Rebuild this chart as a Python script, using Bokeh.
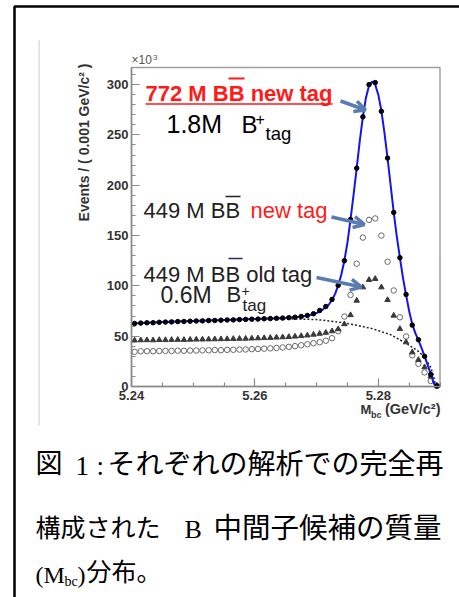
import math
from bokeh.plotting import figure
from bokeh.models import (Label, Arrow, OpenHead, BoxAnnotation, Range1d,
                          FixedTicker, NumeralTickFormatter)
from bokeh.embed import file_html
from bokeh.resources import INLINE

# ---------------- data ----------------
mbc = [5.2405, 5.2415, 5.2425, 5.2435, 5.2445, 5.2455, 5.2465, 5.2475, 5.2485, 5.2495,
       5.2505, 5.2515, 5.2525, 5.2535, 5.2545, 5.2555, 5.2565, 5.2575, 5.2585, 5.2595,
       5.2605, 5.2615, 5.2625, 5.2635, 5.2645, 5.2655, 5.2665, 5.2675, 5.2685, 5.2695,
       5.2705, 5.2715, 5.2725, 5.2735, 5.2745, 5.2755, 5.2765, 5.2775, 5.2785, 5.2795,
       5.2805, 5.2815, 5.2825, 5.2835, 5.2845, 5.2855, 5.2865, 5.2875, 5.2885, 5.2895]

# 772 M BB new tag (filled dots)
n772_new = [62.6, 63.0, 63.3, 63.4, 63.8, 64.0, 64.2, 64.5, 64.6, 64.9,
            65.1, 65.2, 65.5, 65.6, 65.9, 66.1, 66.2, 66.5, 66.7, 66.9,
            67.0, 67.3, 67.5, 67.8, 68.0, 68.4, 68.9, 69.6, 70.6, 72.3,
            75.5, 79.5, 86.5, 100.5, 125.0, 166.0, 217.0, 268.0, 300.0, 302.0,
            273.5, 227.0, 173.0, 128.0, 91.5, 61.0, 46.5, 30.0, 12.0, 0.5]

# 449 M BB new tag (open circles)
n449_new = [34.5, 35.0, 35.1, 35.0, 35.3, 35.4, 35.3, 35.6, 35.5, 35.7,
            35.8, 35.9, 36.0, 36.2, 36.1, 36.4, 36.5, 36.7, 36.8, 37.1,
            37.3, 37.6, 37.9, 38.3, 38.8, 39.4, 40.1, 41.0, 42.0, 43.0,
            44.0, 45.5, 48.0, 55.0, 69.5, 91.0, 122.0, 148.0, 165.6, 167.0,
            150.0, 124.0, 95.4, 68.8, 49.7, 31.0, 22.5, 14.0, 5.5, 0.5]

# 449 M BB old tag (triangles)
n449_old = [45.8, 46.0, 46.1, 46.0, 46.3, 46.2, 46.4, 46.5, 46.4, 46.6,
            46.7, 46.8, 46.9, 47.0, 47.1, 47.2, 47.4, 47.5, 47.6, 47.8,
            48.0, 48.2, 48.4, 48.7, 49.0, 49.3, 49.7, 50.2, 50.8, 51.6,
            52.5, 53.5, 55.0, 57.0, 62.0, 71.0, 85.4, 98.6, 106.0, 107.0,
            98.6, 86.0, 70.5, 57.3, 44.0, 34.0, 26.5, 19.2, 10.0, 1.0]

# fitted total (blue) curve for the 772 M sample
fit_mbc = [5.2400, 5.2450, 5.2500, 5.2550, 5.2600, 5.2650, 5.2670, 5.2690, 5.2700, 5.2710,
           5.2720, 5.2725, 5.2730, 5.2735, 5.2740, 5.2745, 5.2750, 5.2755, 5.2760, 5.2765,
           5.2770, 5.2775, 5.2780, 5.2785, 5.2790, 5.2795, 5.2800, 5.2805, 5.2810, 5.2815,
           5.2820, 5.2825, 5.2830, 5.2835, 5.2840, 5.2845, 5.2850, 5.2855, 5.2860, 5.2865,
           5.2870, 5.2875, 5.2880, 5.2885, 5.2890, 5.2895]
fit_772 = [62.5, 64.0, 65.2, 66.2, 67.0, 68.3, 69.0, 71.0, 73.0, 76.5,
           81.5, 86.0, 92.0, 100.5, 111.0, 125.0, 143.0, 166.0, 191.0, 217.0,
           244.0, 268.0, 287.0, 299.0, 303.0, 300.0, 290.0, 274.0, 252.0, 227.0,
           200.0, 173.0, 149.0, 128.0, 108.0, 91.0, 75.0, 62.0, 53.0, 46.0,
           38.5, 30.0, 21.5, 12.5, 3.0, 0.0]

# background (dotted) curve
bkg_mbc = [5.2400, 5.2450, 5.2500, 5.2550, 5.2600, 5.2650, 5.2700, 5.2730, 5.2760, 5.2790,
           5.2820, 5.2845, 5.2865, 5.2875, 5.2885, 5.2890, 5.2893]
bkg_772 = [62.5, 64.0, 65.2, 66.2, 67.0, 67.4, 66.5, 64.5, 61.5, 57.5,
           51.5, 43.0, 35.0, 29.0, 19.0, 9.0, 0.0]

x_ticks = [5.24, 5.26, 5.28]
x_minor = [5.245, 5.25, 5.255, 5.265, 5.27, 5.275, 5.285, 5.29]
y_ticks = [0, 50, 100, 150, 200, 250, 300]
y_minor = [10, 20, 30, 40, 60, 70, 80, 90, 110, 120, 130, 140, 160, 170, 180, 190,
           210, 220, 230, 240, 260, 270, 280, 290, 310]

# ---------------- layout ----------------
W, H = 459, 597
FL, FR, FT, FB = 131, 439.5, 67, 386   # plot box edges in page pixels
XMIN, XMAX, YMIN, YMAX = 5.24, 5.29, 0.0, 317.0


def X(px):
    return XMIN + (px - FL) / (FR - FL) * (XMAX - XMIN)


def Y(py):
    return YMIN + (FB - py) / (FB - FT) * (YMAX - YMIN)


# the drawing area covers the whole page; the data box is a part of it
p = figure(width=W, height=H, output_backend="svg", toolbar_location=None,
           x_range=Range1d(X(0), X(W)), y_range=Range1d(Y(H), Y(0)),
           min_border=0)
p.xgrid.visible = False
p.ygrid.visible = False
p.background_fill_color = "white"
p.border_fill_color = "white"
p.outline_line_color = None

p.xaxis.fixed_location = YMIN
p.yaxis.fixed_location = XMIN
p.xaxis.bounds = (XMIN, XMAX)
p.yaxis.bounds = (YMIN, YMAX)

for ax in (p.xaxis[0], p.yaxis[0]):
    ax.axis_line_color = "#8a8a8a"
    ax.axis_line_width = 1.5
    ax.major_tick_line_color = "#8a8a8a"
    ax.minor_tick_line_color = "#8a8a8a"
    ax.major_tick_line_width = 1.2
    ax.minor_tick_line_width = 1.2
    ax.major_tick_in = 8
    ax.major_tick_out = 0
    ax.minor_tick_in = 4
    ax.minor_tick_out = 0
    ax.major_label_text_font = "Liberation Sans"
    ax.major_label_text_font_style = "bold"
    ax.major_label_text_font_size = "13px"
    ax.major_label_text_color = "#333333"

p.xaxis.ticker = FixedTicker(ticks=x_ticks, minor_ticks=x_minor)
p.yaxis.ticker = FixedTicker(ticks=y_ticks, minor_ticks=y_minor)
p.xaxis.formatter = NumeralTickFormatter(format="0.00")
p.yaxis.formatter = NumeralTickFormatter(format="0")
p.xaxis.major_label_standoff = 4
p.yaxis.major_label_standoff = 3

# plot box outline (top and right sides of the ROOT frame)
p.add_layout(BoxAnnotation(left=XMIN, right=XMAX, bottom=YMIN, top=YMAX,
                           fill_alpha=0, line_color="#a0a0a0", line_alpha=1,
                           line_width=1.5, line_dash="solid", level="underlay"))

# ---------------- data marks ----------------
p.line(bkg_mbc, bkg_772, line_color="#222222", line_width=1.5, line_dash="2 2")
p.scatter(mbc, n449_new, marker="circle", size=5.5, fill_color=None,
          line_color="#6a6a6a", line_width=1)
p.scatter(mbc, n449_old, marker="triangle", size=5.5, fill_color="#3a3a3a",
          line_color="#3a3a3a")
p.line(fit_mbc, fit_772, line_color="#1414f0", line_width=2)
p.scatter(mbc, n772_new, marker="circle", size=4.5, fill_color="black",
          line_color="black")


# ---------------- texts ----------------
# py is the text baseline (page pixels) for Latin fonts; the label is anchored
# at the middle of its em box, so shift by the font's middle offset.
MID = {"Liberation Sans": 0.3465, "Liberation Serif": 0.3375}


def lab(text, px, py, size, color="#000000", style="normal",
        font="Liberation Sans", align="left", angle=0.0, center=False):
    if angle:
        yy = py
    elif center:
        yy = py - 0.1 * size          # py is the visual centre (CJK glyphs)
    else:
        yy = py - MID.get(font, 0.35) * size
    p.add_layout(Label(x=X(px), y=Y(yy), text=text, text_font=font,
                       text_font_size=f"{size}px", text_color=color,
                       text_font_style=style, text_align=align,
                       text_baseline="middle", angle=angle))


def seg(x0, y0, x1, y1, color, w):
    p.add_layout(Arrow(end=None, x_start=X(x0), y_start=Y(y0), x_end=X(x1),
                       y_end=Y(y1), line_color=color, line_width=w))


def arrow(x0, y0, x1, y1):
    c = "#5b7cb2"
    p.add_layout(Arrow(end=OpenHead(size=11, line_color=c, line_width=3.5),
                       x_start=X(x0), y_start=Y(y0), x_end=X(x1), y_end=Y(y1),
                       line_color=c, line_width=3.5))


RED = "#ff1a1a"
# 772 M BB new tag
lab("772 M BB new tag", 145, 100.5, 22, RED, "bold")
seg(145, 103.5, 332, 103.5, RED, 1.6)
seg(228, 78, 244, 78, RED, 2)
lab("1.8M", 166, 132, 25)
lab("B", 241, 132, 24)
lab("+", 255, 124, 16)
lab("tag", 265, 139.5, 18.5)
arrow(340, 100.5, 365, 109.5)

# 449 M BB new tag
lab("449 M BB", 143, 217.5, 22, "#222222")
lab("new tag", 250, 217.5, 22, RED)
seg(225, 196, 240, 196, "#222222", 1.6)
arrow(331, 216.5, 364, 224)

# 449 M BB old tag
lab("449 M BB old tag", 143, 281.5, 22, "#222222")
seg(228, 258, 242, 258, "#1f2f6a", 1.6)
lab("0.6M", 160, 302, 23, "#222222")
lab("B", 226, 302, 22, "#222222")
lab("+", 241, 295, 14, "#222222")
lab("tag", 242, 311, 17, "#222222")
arrow(316, 277, 361, 286.5)

# axis titles
lab("\u00d710", 131, 64, 12, "#555555")
lab("3", 152.5, 59.5, 8, "#555555")
lab("Events / ( 0.001 GeV/c\u00b2 )", 83, 63, 14, "#333333", "bold",
    align="right", angle=math.pi / 2)
lab("M", 360, 414, 13, "#333333", "bold")
lab("bc", 370.5, 417.5, 9, "#333333", "bold")
lab("(GeV/c\u00b2)", 440, 414, 14.5, "#333333", "bold", align="right")

# caption
JP = "Noto Sans CJK JP"
SERIF = "Liberation Serif"
lab("\u56f3", 35, 464, 27, font=JP, center=True)
lab("1", 75, 475, 27, font=SERIF)
lab(":", 96, 475, 27, font=SERIF)
lab("それぞれの解析での完全再", 107, 464, 28, font=JP, center=True)
lab("構成された", 35, 528, 25, font=JP, center=True)
lab("B", 184, 538, 26, font=SERIF)
lab("中間子候補の質量", 213, 528, 28.5, font=JP, center=True)
lab("(M", 35, 582.5, 24, font=SERIF)
lab("bc", 64, 586, 14, font=SERIF)
lab(")", 77, 582.5, 24, font=SERIF)
lab("分布。", 86, 572, 25, font=JP, center=True)

# outer frame of the figure box and the faint scan edge
p.add_layout(BoxAnnotation(left=X(14), right=X(W + 20), top=Y(6), bottom=Y(H + 20),
                           fill_alpha=0, line_color="black", line_alpha=1,
                           line_width=2.5, line_dash="solid"))
p.add_layout(BoxAnnotation(left=X(38), right=X(39.2), top=Y(40), bottom=Y(425),
                           fill_color="#d4d4d4", fill_alpha=1, line_alpha=0))

open("out.html", "w").write(file_html(p, INLINE))
